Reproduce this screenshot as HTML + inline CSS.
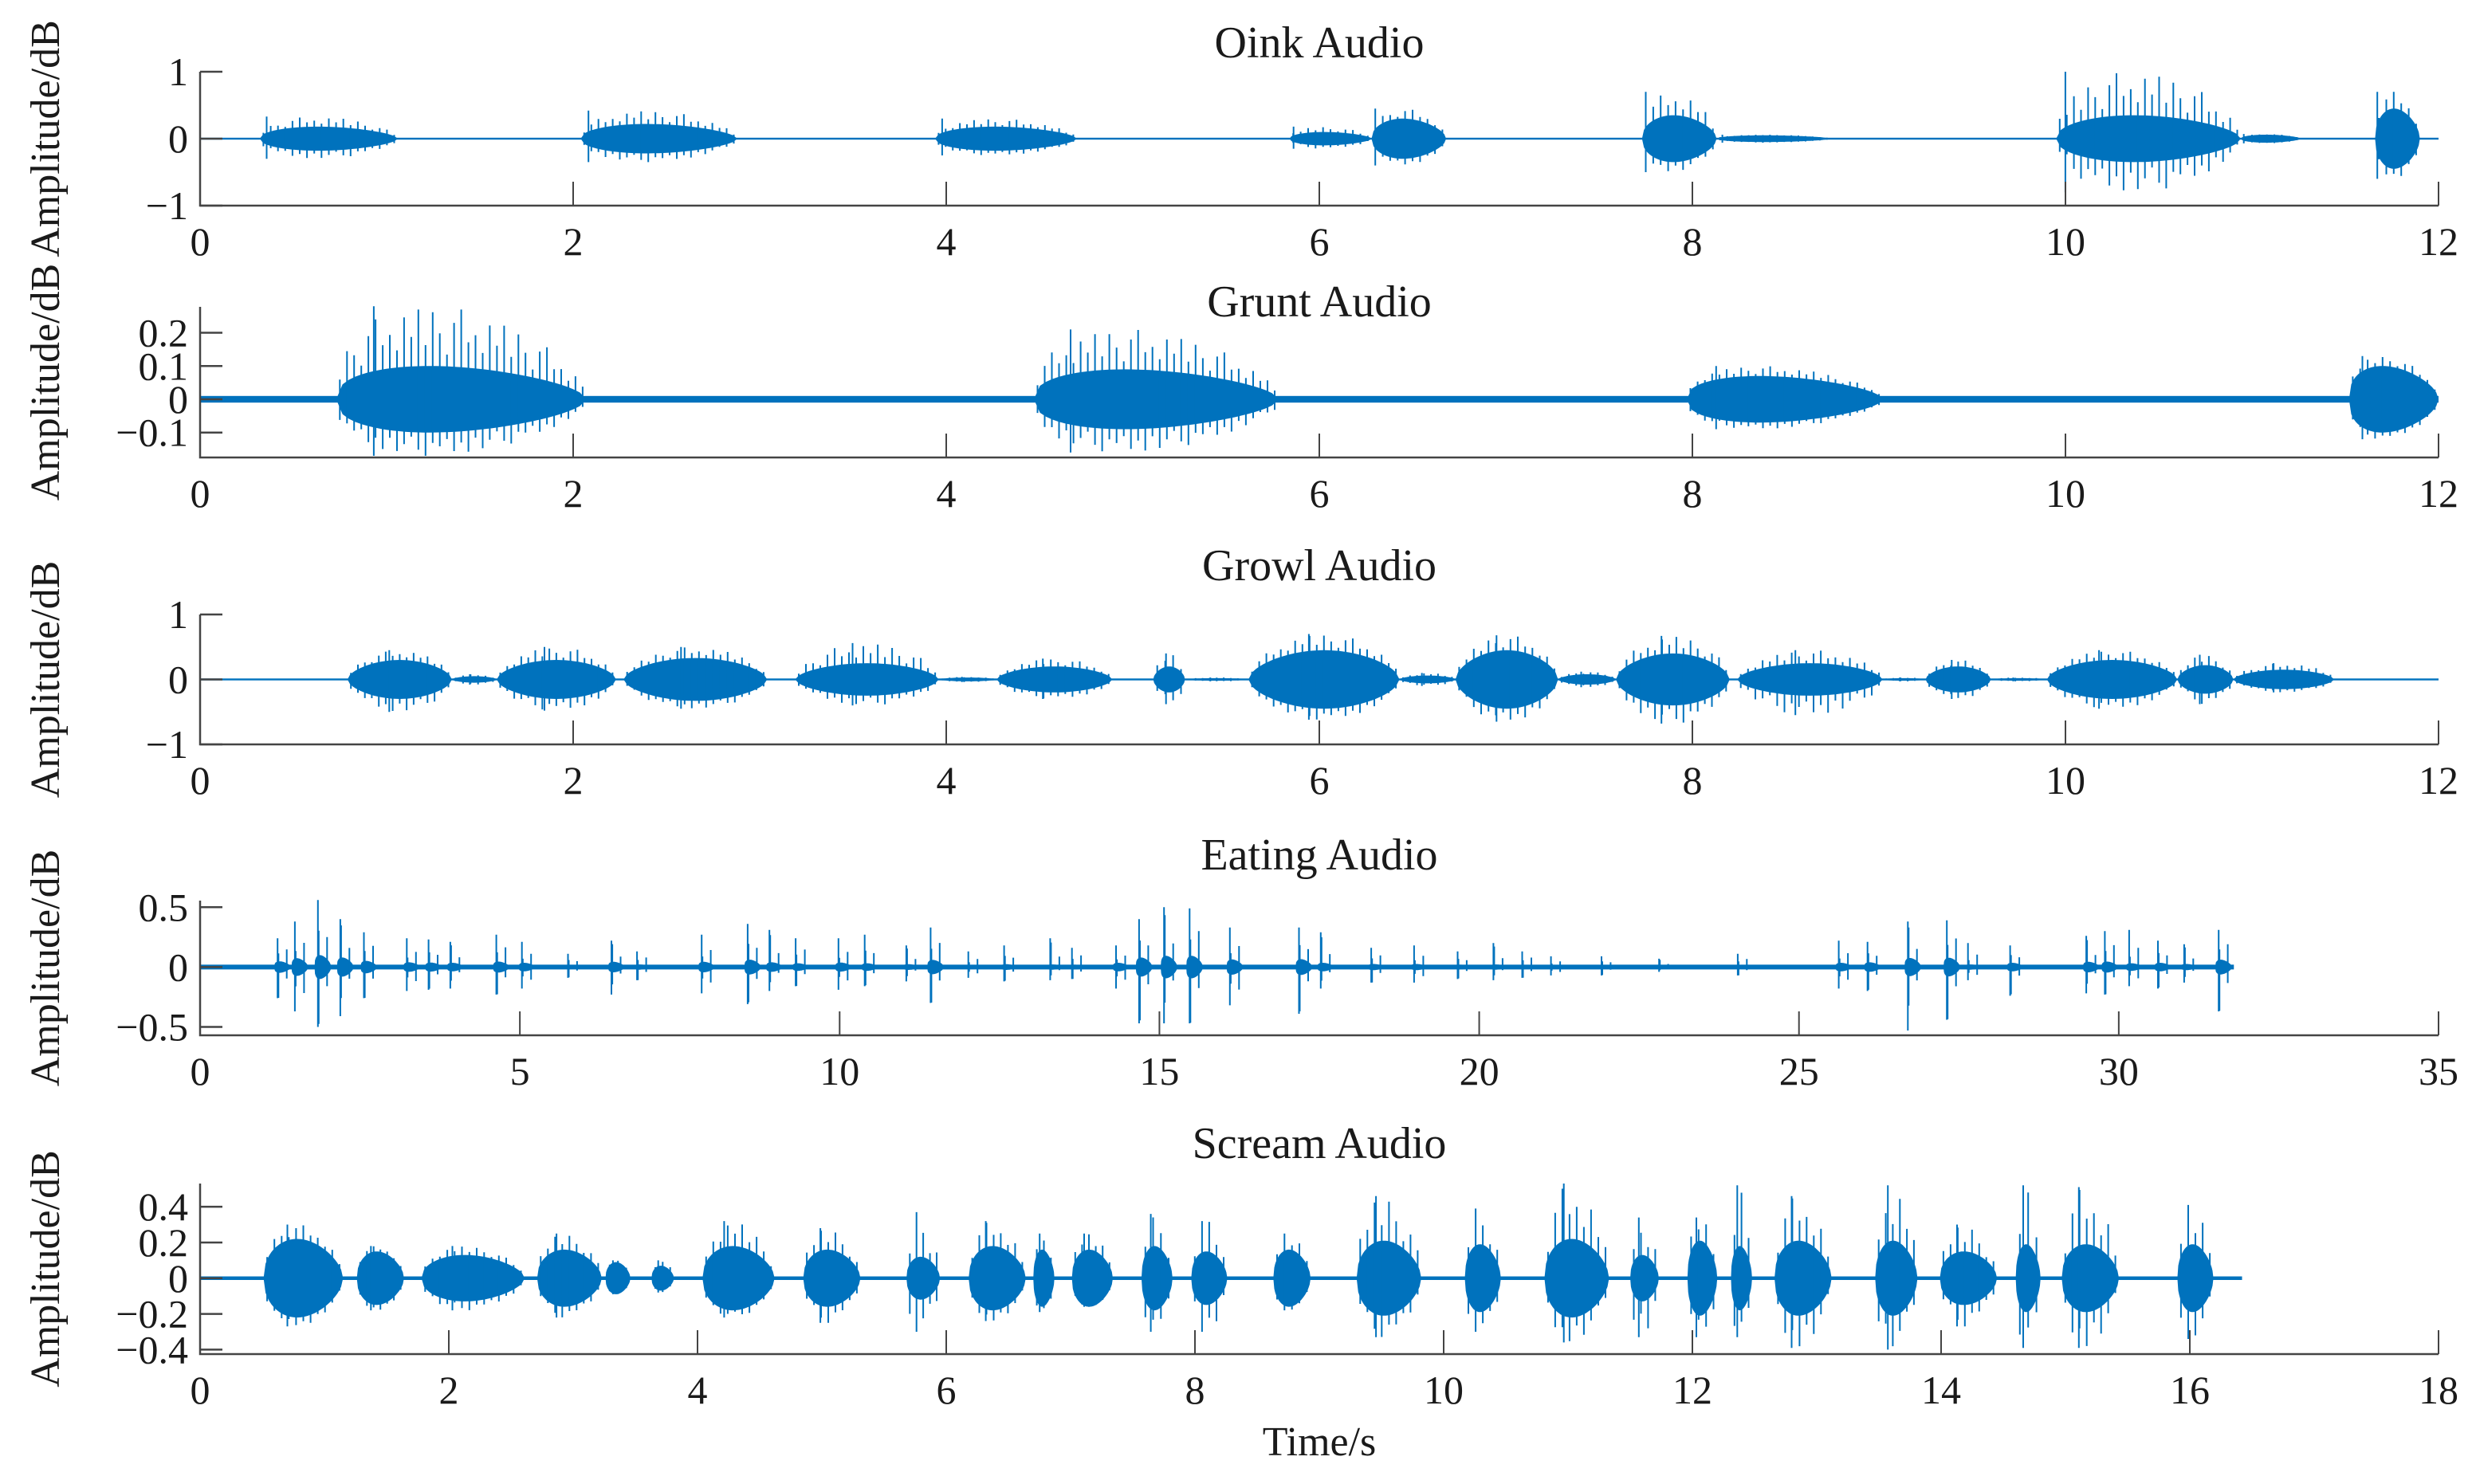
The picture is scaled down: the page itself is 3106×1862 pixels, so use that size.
<!DOCTYPE html>
<html><head><meta charset="utf-8"><style>
html,body{margin:0;padding:0;background:#fff;}
svg{display:block;}
text{font-family:"Liberation Serif",serif;fill:#1a1a1a;}
</style></head><body>
<svg id="chart" width="3106" height="1862" viewBox="0 0 3106 1862" xmlns="http://www.w3.org/2000/svg"></svg>
<script>
// ---------- Oink ----------
const oinkStarts=[0.32,2.04,3.94,5.84,6.28,7.73,8.13,9.95,10.94,11.66];
const oinkEnds  =[1.06,2.88,4.70,6.28,6.68,8.13,8.74,10.94,11.26,11.90];
const oinkBulk  =[0.18,0.22,0.18,0.10,0.30,0.35,0.05,0.35,0.06,0.45];
const oinkUp    =[0.33,0.42,0.30,0.18,0.45,0.70,0.06,1.00,0.07,0.70];
const oinkDown  =[0.30,0.35,0.25,0.15,0.40,0.50,0.06,0.80,0.07,0.60];
// ---------- Grunt ----------
const gruntStarts=[0.73,4.47,7.97,11.52];
const gruntEnds  =[2.07,5.78,9.02,12.0];
const gruntBulk  =[0.10,0.09,0.07,0.10];
const gruntUp    =[0.28,0.21,0.10,0.13];
const gruntDown  =[0.17,0.16,0.09,0.12];
// ---------- Growl ----------
const growlStarts=[0.79,1.35,1.59,2.27,3.19,3.96,4.27,5.11,5.28,5.62,6.43,6.73,7.28,7.59,8.24,9.02,9.25,9.60,9.90,10.60,10.90];
const growlEnds  =[1.35,1.59,2.23,3.04,3.96,4.27,4.89,5.28,5.62,6.43,6.73,7.28,7.59,8.20,9.02,9.25,9.60,9.90,10.60,10.90,11.44];
const growlBulk  =[0.30,0.05,0.30,0.33,0.25,0.03,0.20,0.20,0.02,0.45,0.06,0.45,0.08,0.40,0.25,0.02,0.20,0.02,0.30,0.22,0.15];
const growlUp    =[0.45,0.08,0.50,0.50,0.56,0.04,0.32,0.40,0.03,0.70,0.10,0.68,0.12,0.67,0.45,0.03,0.30,0.03,0.45,0.38,0.25];
const growlDown  =[0.50,0.08,0.48,0.45,0.40,0.04,0.30,0.38,0.03,0.62,0.10,0.65,0.12,0.68,0.55,0.03,0.30,0.03,0.45,0.38,0.20];
// ---------- Eating ----------
const eatTimes=[1.22,1.49,1.85,2.20,2.57,3.24,3.58,3.92,4.64,5.04,5.76,6.44,6.84,7.85,8.57,8.91,9.32,9.99,10.40,11.05,11.43,12.02,12.58,13.30,13.64,14.33,14.69,15.08,15.48,16.11,17.19,17.53,18.32,18.99,19.67,20.23,20.68,21.13,21.92,22.82,24.05,25.63,26.08,26.71,27.32,27.65,28.31,29.50,29.79,30.17,30.62,31.03,31.57];
const eatUp   =[0.24,0.38,0.56,0.40,0.29,0.24,0.23,0.21,0.27,0.21,0.11,0.22,0.13,0.27,0.36,0.31,0.24,0.24,0.27,0.18,0.33,0.13,0.18,0.24,0.16,0.18,0.40,0.50,0.49,0.33,0.33,0.29,0.16,0.18,0.13,0.20,0.13,0.09,0.09,0.07,0.11,0.22,0.21,0.38,0.39,0.20,0.18,0.26,0.30,0.31,0.22,0.19,0.31];
const eatDown =[0.26,0.37,0.50,0.41,0.26,0.20,0.19,0.18,0.23,0.18,0.09,0.23,0.11,0.22,0.31,0.20,0.16,0.19,0.16,0.12,0.30,0.09,0.12,0.11,0.10,0.18,0.47,0.47,0.47,0.32,0.39,0.18,0.13,0.13,0.10,0.11,0.09,0.07,0.07,0.04,0.07,0.18,0.20,0.53,0.44,0.11,0.24,0.22,0.23,0.16,0.18,0.13,0.37];
// ---------- Scream ----------
const screamStarts=[0.51,1.26,1.78,2.71,3.26,3.63,4.04,4.85,5.68,6.18,6.70,7.01,7.57,7.97,8.63,9.30,10.17,10.81,11.50,11.96,12.31,12.66,13.47,13.99,14.60,14.97,15.90];
const screamEnds  =[1.15,1.64,2.61,3.23,3.46,3.81,4.62,5.31,5.95,6.64,6.87,7.34,7.82,8.26,8.93,9.82,10.46,11.33,11.73,12.20,12.48,13.12,13.81,14.45,14.80,15.43,16.19];
const screamBulk  =[0.22,0.15,0.13,0.16,0.09,0.07,0.18,0.16,0.12,0.18,0.16,0.16,0.18,0.15,0.16,0.21,0.19,0.22,0.13,0.21,0.18,0.21,0.21,0.15,0.19,0.19,0.19];
const screamUp    =[0.30,0.18,0.18,0.25,0.10,0.10,0.32,0.28,0.37,0.32,0.25,0.25,0.36,0.32,0.25,0.46,0.39,0.53,0.34,0.34,0.52,0.46,0.52,0.30,0.52,0.51,0.41];
const screamDown  =[0.27,0.18,0.18,0.22,0.09,0.08,0.22,0.25,0.30,0.24,0.19,0.16,0.30,0.30,0.18,0.33,0.30,0.36,0.33,0.33,0.33,0.39,0.40,0.27,0.39,0.39,0.34];

const NS='http://www.w3.org/2000/svg';
const svg=document.getElementById('chart');
const X0=251,X1=3059,BLUE='#0072BD',AX='#444';
const PAT=[0.35,0.9,0.55,0.2,0.75,1,0.45,0.6,0.3,0.85,0.5,0.95];
function mk(tag,attrs,parent){const e=document.createElementNS(NS,tag);for(const k in attrs)e.setAttribute(k,attrs[k]);(parent||svg).appendChild(e);return e;}
function fmt(v){const s=(Math.round(v*10)/10).toString();return v<0?'\u2212'+s.slice(1):s;}

function panel(cfg){
  const g=mk('g',{});
  
  
  const xs=t=>X0+(t/cfg.xmax)*(X1-X0);
  const ys=v=>cfg.bottom-(v-cfg.ymin)/(cfg.ymax-cfg.ymin)*(cfg.bottom-cfg.top);
  const y0=ys(0);
  const ti=mk('text',{x:(X0+X1)/2,y:cfg.titleY,'font-size':56,'text-anchor':'middle'},g);
  ti.textContent=cfg.title;
  
  
  const cy=(cfg.top+cfg.bottom)/2;
  const yl=mk('text',{x:0,y:0,'font-size':52,'text-anchor':'middle',transform:`translate(74 ${cy}) rotate(-90)`},g);
  yl.textContent='Amplitude/dB';
  
  
  const sg=mk('g',{},g);
  
  
  const fl=Math.max(1.2,(ys(0)-ys(cfg.floor)));
  const fr=mk('rect',{x:xs(0),y:y0-fl,width:xs(cfg.end)-xs(0),height:2*fl,fill:BLUE},sg);
  
  
  const S=cfg.starts,E=cfg.ends,B=cfg.bulk,U=cfg.up,D=cfg.down;
  const w=u=>Math.pow(Math.max(0,Math.sin(Math.PI*Math.pow(u,cfg.skew))),0.55);
  for(let i=0;i<S.length;i++){
    const xa=xs(S[i]),xb=xs(E[i]);const N=40;
    let top=[],bot=[];
    for(let k=0;k<=N;k++){const u=k/N;const x=xa+(xb-xa)*u;const a=B[i]*w(u);
      top.push(x.toFixed(1)+','+ys(a).toFixed(1));bot.push(x.toFixed(1)+','+ys(-a).toFixed(1));}
    const p=mk('polygon',{points:top.concat(bot.reverse()).join(' '),fill:BLUE},sg);
    
    
    const n=Math.max(2,Math.round((xb-xa)/9));
    let d='';
    for(let k=0;k<n;k++){const u=(k+0.5)/n;const f=PAT[(k+i*3)%PAT.length];const ww=Math.max(0.2,w(u));
      const hu=(B[i]+(U[i]-B[i])*f)*ww, hd=(B[i]+(D[i]-B[i])*PAT[(k+i*3+5)%PAT.length])*ww;
      const x=(xa+(xb-xa)*u).toFixed(1);
      d+=`M${x} ${ys(hu).toFixed(1)}V${ys(-hd).toFixed(1)}`;}
    const kx=(xa+(xb-xa)*cfg.peakPos).toFixed(1);
    d+=`M${kx} ${ys(U[i]).toFixed(1)}V${ys(-D[i]).toFixed(1)}`;
    const sp=mk('path',{d:d,stroke:BLUE,'stroke-width':2,fill:'none'},sg);
    
    
  }
  const ax=mk('path',{d:`M${X0} ${cfg.top}V${cfg.bottom}H${X1}`,stroke:AX,'stroke-width':2.5,fill:'none'},g);
  
  
  cfg.yticks.forEach(v=>{
    const y=ys(v);
    const tk=mk('line',{x1:X0,x2:X0+28,y1:y,y2:y,stroke:AX,'stroke-width':2.5},g);
    
    
    const tl=mk('text',{x:236,y:y+17,'font-size':50,'text-anchor':'end'},g);
    tl.textContent=fmt(v);
    
    
  });
  cfg.xticks.forEach(v=>{
    const x=xs(v);
    const tk=mk('line',{x1:x,x2:x,y1:cfg.bottom,y2:cfg.bottom-30,stroke:AX,'stroke-width':2},g);
    
    
    const tl=mk('text',{x:x,y:cfg.bottom+62,'font-size':50,'text-anchor':'middle'},g);
    tl.textContent=String(v);
    
    
  });
}
const r=(a,b,s)=>{const o=[];for(let v=a;v<=b+1e-9;v+=s)o.push(Math.round(v*10)/10);return o;};

panel({name:'oink',title:'Oink Audio',titleY:72,top:90,bottom:258,ymin:-1,ymax:1,xmax:12,
  yticks:[-1,0,1],xticks:r(0,12,2),floor:0.004,end:12,peakPos:0.05,skew:0.8,
  starts:oinkStarts,ends:oinkEnds,bulk:oinkBulk,up:oinkUp,down:oinkDown});
panel({name:'grunt',title:'Grunt Audio',titleY:397,top:385,bottom:574,ymin:-0.175,ymax:0.278,xmax:12,
  yticks:[-0.1,0,0.1,0.2],xticks:r(0,12,2),floor:0.01,end:12,peakPos:0.15,skew:0.7,
  starts:gruntStarts,ends:gruntEnds,bulk:gruntBulk,up:gruntUp,down:gruntDown});
panel({name:'growl',title:'Growl Audio',titleY:728,top:771,bottom:934,ymin:-1,ymax:1,xmax:12,
  yticks:[-1,0,1],xticks:r(0,12,2),floor:0.004,end:12,peakPos:0.4,skew:1,
  starts:growlStarts,ends:growlEnds,bulk:growlBulk,up:growlUp,down:growlDown});
panel({name:'eating',title:'Eating Audio',titleY:1091,top:1130,bottom:1299,ymin:-0.57,ymax:0.555,xmax:35,
  yticks:[-0.5,0,0.5],xticks:r(0,35,5),floor:0.02,end:31.8,peakPos:0.2,skew:0.6,
  starts:eatTimes.map(t=>t-0.06),ends:eatTimes.map(t=>t+0.2),bulk:eatUp.map((u,i)=>Math.min(u,eatDown[i])*0.2),up:eatUp,down:eatDown});
panel({name:'scream',title:'Scream Audio',titleY:1453,top:1485,bottom:1699,ymin:-0.425,ymax:0.53,xmax:18,
  yticks:[-0.4,-0.2,0,0.2,0.4],xticks:r(0,18,2),floor:0.01,end:16.42,peakPos:0.3,skew:0.8,
  starts:screamStarts,ends:screamEnds,bulk:screamBulk,up:screamUp,down:screamDown});

const xt=mk('text',{x:1655,y:1826,'font-size':52,'text-anchor':'middle'});
xt.textContent='Time/s';


</script>
</body></html>
